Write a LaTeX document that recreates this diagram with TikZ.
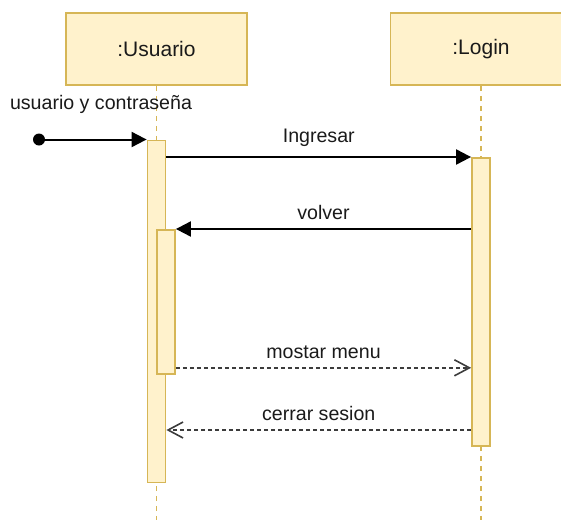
\documentclass[tikz,border=0pt]{standalone}
\usepackage{fontspec}
\setmainfont{Liberation Sans}
\usetikzlibrary{arrows.meta}
\definecolor{boxfill}{HTML}{FFF2CC}
\definecolor{boxline}{HTML}{D6B656}
\definecolor{ink}{HTML}{1A1A1A}
\tikzset{
  actor/.style={draw=boxline, fill=boxfill, line width=1.8pt, minimum width=181pt,
    minimum height=72pt, inner sep=0pt, font=\fontsize{21}{25}\selectfont, text=ink},
  activation/.style={draw=boxline, fill=boxfill, line width=1.8pt, minimum width=18pt,
    inner sep=0pt, anchor=north},
  lifeline/.style={draw=boxline, line width=1.6pt, dash pattern=on 5pt off 5pt},
  call/.style={draw=black, line width=2pt, -{Triangle[length=15pt,width=15pt]}},
  reply/.style={draw=ink!85, line width=2pt, dash pattern=on 4pt off 3pt,
    -{Straight Barb[length=15pt,width=16pt,line width=1.6pt]}},
  msg/.style={font=\fontsize{19.6}{23}\selectfont, text=ink, inner sep=0pt},
}
\begin{document}
\begin{tikzpicture}[x=1pt, y=-1pt]
  \useasboundingbox (0,0) rectangle (561,520);
  \clip (0,0) rectangle (561,520);

  % participants
  \node[actor] (usr) at (156.5,49) {:Usuario};
  \node[actor] (login) at (481,49) {:Login};

  % lifelines
  \coordinate (usrEnd) at (156.5,520);
  \coordinate (loginEnd) at (481,520);
  \draw[lifeline] (usr.south) -- (usrEnd);
  \draw[lifeline] (login.south) -- (loginEnd);

  % activation bars
  \node[activation, minimum height=342pt] (uact) at (156.5,139.5) {};
  \node[activation, minimum height=144pt] (uinner) at (166,229) {};
  \node[activation, minimum height=288pt] (lact) at (481,157) {};

  % found message
  \node[circle, fill=black, minimum size=12pt, inner sep=0pt] (start) at (39,139.5) {};
  \node[msg] (startlbl) at (101,104) {usuario y contraseña};
  \draw[call] (start.center) -- (uact.north west);

  % Ingresar
  \coordinate (ingA) at ([yshift=-17.5pt]uact.north east);
  \draw[call] (ingA) -- (ingA -| lact.west)
    node[msg, midway, above=9pt] {Ingresar};

  % volver
  \coordinate (volA) at (uinner.north east);
  \draw[call] (volA -| lact.west) -- (volA)
    node[msg, midway, above=8pt] {volver};

  % mostar menu
  \coordinate (mosA) at ([yshift=7pt]uinner.south east);
  \draw[reply] (mosA) -- (mosA -| lact.west)
    node[msg, midway, above=8pt] {mostar menu};

  % cerrar sesion
  \coordinate (cerA) at ([yshift=-290.5pt]uact.north east);
  \draw[reply] (cerA -| lact.west) -- (cerA)
    node[msg, midway, above=8pt] {cerrar sesion};
\end{tikzpicture}
\end{document}
